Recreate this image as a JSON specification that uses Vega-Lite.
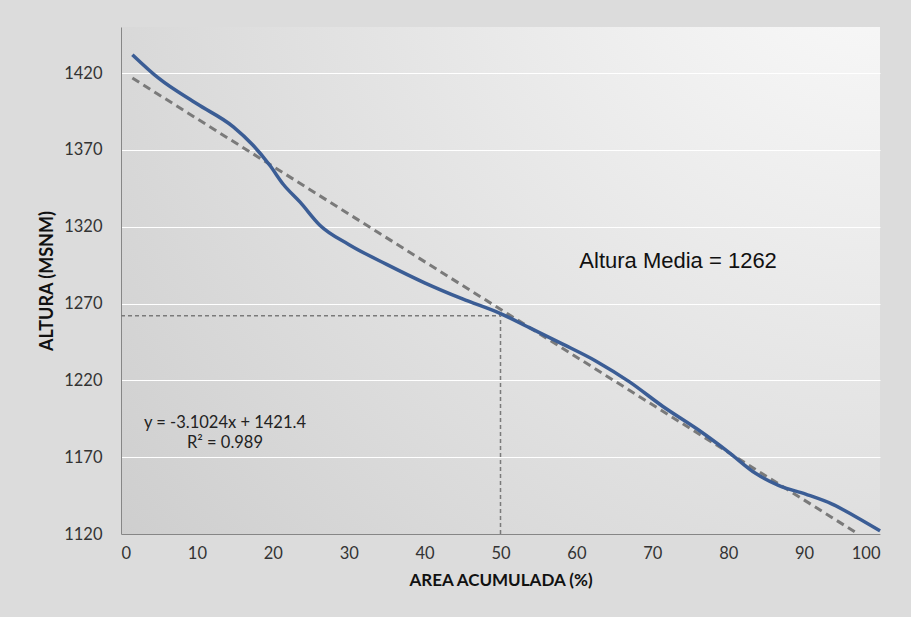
{
  "$schema": "https://vega.github.io/schema/vega-lite/v6.json",
  "width": 759,
  "height": 507,
  "autosize": "none",
  "padding": {"left": 121, "top": 27, "right": 31, "bottom": 83},
  "background": "#dcdcdc",
  "config": {
    "font": "Lato",
    "view": {
      "stroke": null,
      "fill": {
        "gradient": "radial",
        "x1": 1, "y1": 0, "r1": 0,
        "x2": 1, "y2": 0, "r2": 1.45,
        "stops": [
          {"offset": 0, "color": "#fcfcfc"},
          {"offset": 1, "color": "#c9c9c9"}
        ]
      }
    },
    "axis": {
      "domainColor": "#868686",
      "domainWidth": 1,
      "ticks": false,
      "labelColor": "#333333",
      "labelFont": "Lato",
      "labelFontSize": 16.5,
      "titleFont": "Lato",
      "titleFontSize": 17,
      "titleFontWeight": "bold",
      "titleColor": "#111111"
    }
  },
  "datasets": {
    "curve": [
      {"x": 1.5, "y": 1432},
      {"x": 5, "y": 1416.5},
      {"x": 10, "y": 1400},
      {"x": 14.8, "y": 1385},
      {"x": 17.4, "y": 1373},
      {"x": 19.6, "y": 1360},
      {"x": 21.4, "y": 1347.5},
      {"x": 23.6, "y": 1336},
      {"x": 26.2, "y": 1321},
      {"x": 30, "y": 1308.5},
      {"x": 35, "y": 1295.5},
      {"x": 40, "y": 1283.5},
      {"x": 45, "y": 1273},
      {"x": 50, "y": 1263.5},
      {"x": 53.8, "y": 1254.3},
      {"x": 58.2, "y": 1243.6},
      {"x": 62.6, "y": 1232.5},
      {"x": 67, "y": 1219},
      {"x": 71.4, "y": 1203},
      {"x": 76, "y": 1188},
      {"x": 80, "y": 1173.5},
      {"x": 83.6, "y": 1159.5},
      {"x": 86.7, "y": 1151.5},
      {"x": 90.2, "y": 1146},
      {"x": 93.7, "y": 1139.5},
      {"x": 96.8, "y": 1131.2},
      {"x": 100, "y": 1122}
    ],
    "trend": [
      {"x": 1.5, "y": 1416.75},
      {"x": 97.1, "y": 1120.1}
    ],
    "refs": [
      {"x": 0, "x2": 50, "y": 1262, "y2": 1262},
      {"x": 50, "x2": 50, "y": 1120, "y2": 1262}
    ],
    "media": [
      {"x": 73.4, "y": 1293, "label": "Altura Media = 1262"}
    ],
    "eq": [
      {"x": 13.7, "y": 1188.7, "label": "y = -3.1024x + 1421.4"},
      {"x": 13.7, "y": 1175.7, "label": "R² = 0.989"}
    ]
  },
  "layer": [
    {
      "data": {"name": "refs"},
      "mark": {"type": "rule", "color": "#7a7a7a", "strokeWidth": 1.5, "strokeDash": [4, 3]},
      "encoding": {
        "x": {
          "field": "x", "type": "quantitative",
          "scale": {"domain": [0, 100], "nice": false, "zero": false},
          "axis": {
            "title": "AREA ACUMULADA (%)",
            "values": [0, 10, 20, 30, 40, 50, 60, 70, 80, 90, 100],
            "grid": false,
            "labelPadding": 11,
            "titlePadding": 11
          }
        },
        "x2": {"field": "x2"},
        "y": {
          "field": "y", "type": "quantitative",
          "scale": {"domain": [1120, 1450], "nice": false, "zero": false},
          "axis": {
            "title": "ALTURA (MSNM)",
            "titleFontSize": 18,
            "format": "d",
            "values": [1120, 1170, 1220, 1270, 1320, 1370, 1420],
            "grid": true,
            "gridColor": "#ffffff",
            "gridWidth": 1,
            "labelPadding": 19,
            "titlePadding": 7
          }
        },
        "y2": {"field": "y2"}
      }
    },
    {
      "data": {"name": "trend"},
      "mark": {"type": "line", "color": "#7a7a7a", "strokeWidth": 3, "strokeDash": [8, 5], "clip": true},
      "encoding": {
        "x": {"field": "x", "type": "quantitative"},
        "y": {"field": "y", "type": "quantitative"}
      }
    },
    {
      "data": {"name": "curve"},
      "mark": {"type": "line", "color": "#3b5d95", "strokeWidth": 3.5, "interpolate": "monotone"},
      "encoding": {
        "x": {"field": "x", "type": "quantitative"},
        "y": {"field": "y", "type": "quantitative"}
      }
    },
    {
      "data": {"name": "media"},
      "mark": {"type": "text", "font": "Liberation Sans", "fontSize": 22, "color": "#111111", "align": "center", "baseline": "alphabetic"},
      "encoding": {
        "x": {"field": "x", "type": "quantitative"},
        "y": {"field": "y", "type": "quantitative"},
        "text": {"field": "label"}
      }
    },
    {
      "data": {"name": "eq"},
      "mark": {"type": "text", "font": "Lato", "fontSize": 16.5, "color": "#222222", "align": "center", "baseline": "alphabetic"},
      "encoding": {
        "x": {"field": "x", "type": "quantitative"},
        "y": {"field": "y", "type": "quantitative"},
        "text": {"field": "label"}
      }
    }
  ]
}
